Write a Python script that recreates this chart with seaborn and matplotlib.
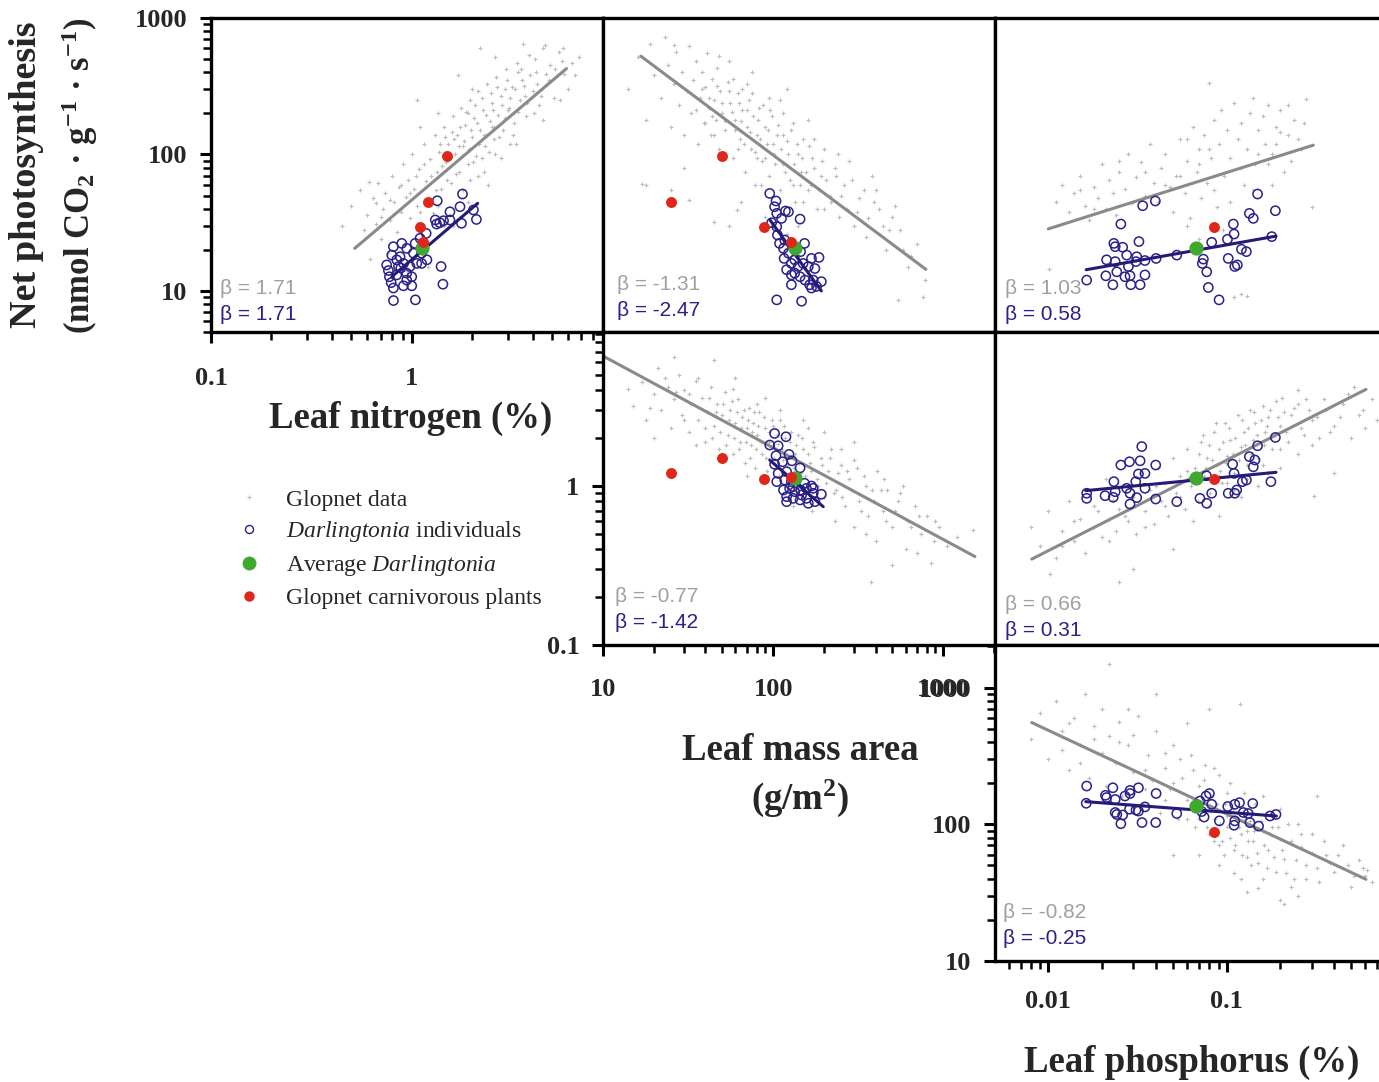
import numpy as np
import matplotlib
matplotlib.use("Agg")
import matplotlib.pyplot as plt
import seaborn as sns
from matplotlib.ticker import FixedLocator, FuncFormatter, NullFormatter, LogLocator
from matplotlib.lines import Line2D

# ---------------------------------------------------------------- data
# Glopnet global data (grey clouds), one list of (x, y) per panel
glop_N_A = [(0.45,30),(0.50,42),(0.52,21),(0.55,55),(0.58,28),(0.60,36),(0.61,63),(0.62,17),(0.64,48),(0.66,31),
            (0.68,62),(0.70,24),(0.72,40),(0.74,52),(0.76,19),(0.78,33),(0.80,70),(0.82,45),(0.84,27),(0.86,58),
            (0.88,38),(0.90,85),(0.92,22),(0.94,49),(0.96,65),(0.98,34),(1.00,100),(1.03,56),(1.06,42),(1.06,250),
            (1.09,78),(1.12,30),(1.15,120),(1.18,64),(1.21,48),(1.24,92),(1.27,37),(1.30,140),(1.33,75),(1.36,105),
            (1.40,56),(1.44,160),(1.48,88),(1.52,120),(1.56,62),(1.60,190),(1.64,100),(1.68,140),(1.72,75),(1.76,220),
            (1.80,115),(1.85,165),(1.90,85),(1.95,250),(2.00,135),(2.05,185),(2.10,98),(2.15,290),(2.20,150),(2.26,210),
            (2.32,115),(2.38,330),(2.44,175),(2.50,240),(2.56,130),(2.62,370),(2.70,195),(2.78,270),(2.86,150),(2.95,420),
            (3.05,220),(3.15,310),(3.25,170),(3.35,470),(3.45,250),(3.55,350),(3.60,650),(3.70,190),(3.85,540),(4.00,290),
            (4.15,400),(4.30,230),(4.50,600),(4.60,630),(4.70,330),(4.90,450),(5.10,260),(5.40,560),(5.70,600),(5.75,390),
            (6.00,300),(6.30,470),(2.40,60),(1.90,45),(3.10,120),(4.50,180),(5.50,250),(1.60,30),(2.80,95),(1.20,15),
            (0.95,14),(2.20,600),(1.70,380),(1.35,200),(2.60,520),(1.10,160),(3.00,210),(1.80,55),(2.30,75),(1.45,30),
            (1.55,95),(1.62,130),(1.66,72),(1.74,160),(1.78,98),(1.83,125),(1.87,205),(1.92,110),(1.97,150),(2.02,88),
            (2.07,230),(2.12,170),(2.17,120),(2.23,260),(2.28,140),(2.34,195),(2.42,105),(2.47,280),(2.53,210),
            (2.58,160),(2.66,310),(2.73,135),(2.82,230),(2.91,185),(2.98,350),(3.08,260),(3.18,140),(3.28,300),
            (3.38,205),(3.50,420),(3.62,320),(3.75,240),(3.90,380),(4.05,200),(4.20,330),(4.40,270),(4.65,390),
            (4.85,350),(5.20,420),(5.60,480),(6.50,380),(6.80,520),(1.25,70),(1.32,55),(1.38,120),(1.42,82),(1.50,65),
            (1.46,135),(1.15,85),(1.05,70),(0.98,52),(0.88,60),(0.78,46),(0.70,35),(0.66,44),(2.15,70),(2.60,100),
            (3.30,120),(1.35,42),(1.10,38),(2.90,300),(3.40,400),(2.00,300),(1.90,200),(2.50,160),(2.25,95),(3.65,270),
            (4.10,500),(1.72,115),(2.35,140),(1.58,145),(1.95,65)]
glop_LMA_A = [(14,300),(16,520),(17,61),(18,180),(19,650),(20,380),(22,260),(23,720),(24,450),(25,160),(26,330),
              (26,630),(27,560),(28,230),(29,400),(30,140),(31,290),(32,620),(32,46),(33,200),(34,350),(35,480),(36,120),
              (37,260),(38,400),(39,170),(40,310),(41,550),(42,220),(43,140),(44,360),(45,250),(45,32),(46,180),(47,430),
              (48,110),(49,290),(50,200),(52,150),(54,340),(56,240),(58,95),(60,180),(61,39),(62,280),(64,130),(66,210),
              (68,75),(70,160),(72,250),(74,110),(76,190),(78,60),(80,140),(83,220),(86,90),(89,160),(92,120),(95,70),
              (98,190),(101,100),(105,140),(110,55),(115,85),(120,125),(125,65),(130,170),(135,45),(140,100),(145,75),
              (150,130),(160,55),(170,95),(180,40),(190,70),(200,110),(215,50),(230,80),(245,35),(260,60),(280,90),
              (300,30),(320,48),(350,25),(380,70),(420,40),(460,20),(500,35),(545,8.6),(560,28),(620,15),(700,22),
              (760,9),(780,12),(650,18),(30,80),(25,55),(18,60),(55,30),(90,35),(400,55),(160,180),(110,250),(120,26),
              (70,330),(85,60),(65,45),(140,30),
              (42,260),(44,190),(47,320),(50,240),(52,175),(55,290),(57,205),(60,150),(63,240),(65,175),(67,120),
              (70,210),(73,145),(75,280),(78,105),(81,180),(84,130),(87,230),(90,95),(93,150),(96,210),(100,120),
              (103,85),(107,165),(111,110),(115,140),(118,75),(122,100),(127,150),(132,85),(138,120),(143,60),(148,95),
              (155,75),(162,115),(168,60),(175,80),(185,55),(195,90),(205,65),(220,45),(235,70),(250,50),(270,40),
              (290,65),(310,38),(340,55),(360,34),(390,45),(440,30),(480,28),(520,42),(580,20),(35,210),(38,300),
              (40,170),(45,140),(58,360),(62,110),(66,300),(75,400),(55,480),(48,530),(80,95),(95,260),(115,200),
              (130,60),(150,45),(175,130),(200,40),(240,100),(120,300)]
glop_P_A = [(0.0101,14.4),(0.011,45),(0.012,60),(0.013,38),(0.014,52),(0.015,70),(0.016,42),(0.017,33),(0.018,58),
            (0.019,48),(0.020,85),(0.021,40),(0.022,65),(0.023,52),(0.024,36),(0.025,75),(0.027,56),(0.028,100),
            (0.029,44),(0.031,68),(0.033,88),(0.035,50),(0.037,120),(0.039,62),(0.041,45),(0.043,80),(0.045,100),
            (0.048,58),(0.050,38),(0.052,70),(0.055,130),(0.058,52),(0.060,90),(0.062,34),(0.065,160),(0.068,75),
            (0.070,110),(0.072,48),(0.075,140),(0.078,62),(0.080,335),(0.082,95),(0.085,180),(0.088,41),(0.090,120),
            (0.093,210),(0.096,70),(0.100,150),(0.105,95),(0.110,240),(0.115,130),(0.120,170),(0.125,60),(0.130,110),
            (0.135,200),(0.140,260),(0.145,85),(0.150,150),(0.160,190),(0.165,120),(0.170,230),(0.180,100),(0.190,160),
            (0.200,210),(0.210,75),(0.220,140),(0.240,180),(0.260,110),(0.280,257),(0.300,41),(0.110,9.0),(0.120,9.5),
            (0.130,9.2),(0.095,28),(0.070,24),(0.060,30),
            (0.18,60),(0.23,90),(0.25,130),(0.19,120),(0.15,100),(0.12,80),(0.085,55),(0.105,45),(0.14,55),
            (0.17,85),(0.20,145),(0.22,230),(0.27,170),(0.08,110),(0.07,85),(0.055,70),(0.045,60),(0.035,75),
            (0.03,45),(0.025,90),(0.018,40),(0.015,55),(0.06,130)]
glop_LMA_N = [(14,4.1),(15,3.2),(17,4.5),(18,2.6),(20,3.8),(21,5.5),(22,3.0),(24,4.2),(25,2.3),(26,3.5),(26,6.5),
              (28,5.0),(29,2.8),(30,4.0),(32,2.2),(33,3.3),(35,4.6),(36,2.6),(38,3.6),(40,1.9),(41,2.9),(43,4.2),
              (45,2.4),(45,6.2),(47,3.3),(48,1.7),(50,2.8),(52,3.9),(54,2.1),(56,3.0),(58,1.6),(60,2.5),(60,4.8),
              (62,3.5),(64,1.9),(66,2.7),(68,1.4),(70,2.3),(70,1.15),(72,3.1),(74,1.8),(76,2.5),(78,1.3),(80,2.1),
              (83,2.9),(86,1.6),(89,2.3),(90,3.6),(92,1.25),(95,1.9),(98,2.6),(101,1.5),(105,2.1),(108,1.15),(112,1.7),
              (116,2.4),(120,1.35),(125,1.9),(130,1.05),(130,0.75),(135,1.6),(140,2.1),(145,1.2),(150,1.7),(150,2.6),
              (158,0.95),(165,1.4),(170,0.7),(172,1.9),(180,1.1),(190,1.5),(200,0.85),(200,2.2),(210,1.25),(220,1.7),
              (230,0.6),(235,0.95),(250,1.35),(265,0.75),(280,1.1),(300,1.45),(300,0.55),(300,1.9),(320,0.8),(340,1.15),
              (360,0.65),(378,0.25),(380,0.95),(400,0.45),(410,1.25),(440,0.7),(470,0.95),(500,0.55),(500,0.32),
              (540,0.8),(580,1.0),(600,0.4),(620,0.6),(680,0.75),(700,0.38),(740,0.5),(800,0.65),(850,0.33),(880,0.45),
              (950,0.55),(1050,0.42),(1500,0.53),(50,1.6),(35,1.8),(20,2.0),
              (40,2.3),(42,3.6),(44,2.0),(46,2.9),(49,2.2),(51,3.3),(53,1.8),(55,2.6),(57,3.4),(59,2.0),(61,2.9),
              (63,1.7),(65,2.3),(67,3.0),(69,1.9),(71,2.6),(73,1.5),(75,2.2),(77,2.9),(79,1.7),(82,2.4),(85,1.9),
              (88,2.7),(91,1.5),(94,2.2),(97,1.75),(100,2.4),(103,1.35),(107,1.85),(110,2.6),(114,1.45),(118,2.0),
              (122,1.55),(127,2.2),(132,1.3),(137,1.8),(142,1.4),(148,2.0),(154,1.15),(160,1.6),(168,1.25),(175,1.75),
              (184,1.0),(195,1.35),(205,1.05),(215,1.5),(228,0.9),(240,1.2),(255,0.85),(270,1.25),(290,0.95),
              (310,1.3),(330,0.7),(350,1.0),(390,0.8),(430,0.95),(460,0.6),(520,0.7),(560,0.9),(650,0.55),(720,0.65),
              (900,0.6),(1200,0.48),(32,3.8),(36,4.8),(30,2.6),(27,3.9),(23,4.8),(19,3.1),(58,4.1),(80,3.3),(110,3.0),
              (160,2.3),(250,1.7),(350,0.5),(450,1.1)]
glop_P_N = [(0.008,0.55),(0.009,0.42),(0.010,0.70),(0.0102,0.28),(0.011,0.35),(0.012,0.52),(0.013,0.80),(0.014,0.45),
            (0.015,0.62),(0.016,0.38),(0.017,0.95),(0.018,0.55),(0.019,0.70),(0.020,0.48),(0.021,1.10),(0.022,0.62),
            (0.023,0.82),(0.024,0.52),(0.025,0.25),(0.025,0.72),(0.026,1.00),(0.028,0.60),(0.030,0.85),(0.030,0.30),
            (0.031,0.50),(0.033,1.20),(0.035,0.70),(0.037,0.95),(0.039,0.58),(0.041,1.30),(0.043,0.80),(0.045,1.05),
            (0.047,0.65),(0.050,1.50),(0.050,0.40),(0.052,0.90),(0.055,1.15),(0.058,0.72),(0.060,1.70),(0.063,1.00),
            (0.066,1.30),(0.069,0.80),(0.072,1.90),(0.075,1.15),(0.078,1.50),(0.081,0.90),(0.085,2.20),(0.088,1.35),
            (0.090,0.65),(0.091,1.70),(0.094,1.05),(0.098,2.50),(0.100,1.55),(0.105,1.95),(0.110,1.20),(0.115,2.80),
            (0.120,1.75),(0.120,0.85),(0.125,2.20),(0.130,1.35),(0.135,3.00),(0.140,1.95),(0.145,2.50),(0.150,1.50),
            (0.150,1.00),(0.160,3.20),(0.165,2.20),(0.170,2.70),(0.180,1.70),(0.190,3.40),(0.200,2.40),(0.200,1.30),
            (0.210,2.90),(0.220,1.90),(0.240,3.10),(0.250,1.60),(0.260,2.30),(0.280,3.50),(0.300,2.60),(0.310,0.86),
            (0.330,2.00),(0.360,3.00),(0.400,2.40),(0.400,1.20),(0.450,3.30),(0.500,2.00),(0.520,4.20),(0.550,2.80),
            (0.600,2.30),(0.650,3.50),
            (0.070,1.6),(0.074,2.1),(0.077,1.3),(0.080,1.8),(0.083,1.45),(0.087,2.5),(0.092,1.25),(0.095,1.9),
            (0.099,1.4),(0.103,2.3),(0.108,1.6),(0.112,2.0),(0.117,1.45),(0.122,2.6),(0.127,1.8),(0.132,2.3),
            (0.137,1.6),(0.142,2.9),(0.148,2.1),(0.155,2.6),(0.162,1.8),(0.168,2.4),(0.175,3.0),(0.185,2.1),
            (0.195,2.7),(0.205,3.6),(0.215,2.2),(0.23,2.8),(0.25,3.3),(0.27,2.1),(0.29,3.0),(0.32,2.7),(0.35,3.5),
            (0.38,2.2),(0.43,2.7),(0.48,3.8),(0.58,3.0),(0.70,2.6),(0.16,1.35),(0.13,1.1),(0.11,0.95),(0.09,1.15),
            (0.06,1.25),(0.045,0.75),(0.035,0.55),(0.027,0.65),(0.022,0.45),(0.018,0.75),(0.014,0.6),(0.012,0.42),
            (0.04,1.0),(0.055,0.85),(0.065,0.6),(0.08,0.75),(0.10,1.05),(0.25,4.0),(0.30,1.8),(0.20,1.7),(0.17,1.2)]
glop_P_LMA = [(0.008,420),(0.009,650),(0.010,300),(0.011,800),(0.012,480),(0.013,250),(0.014,600),(0.015,380),
              (0.016,900),(0.017,220),(0.018,520),(0.019,330),(0.020,700),(0.021,190),(0.022,440),(0.022,1490),
              (0.024,280),(0.025,560),(0.026,160),(0.028,380),(0.030,240),(0.032,620),(0.034,140),(0.036,320),
              (0.038,210),(0.040,480),(0.040,900),(0.042,120),(0.045,260),(0.048,180),(0.050,380),(0.050,60),
              (0.053,110),(0.056,220),(0.060,150),(0.060,550),(0.063,320),(0.066,95),(0.070,190),(0.070,60),
              (0.073,130),(0.076,270),(0.080,85),(0.080,700),(0.083,160),(0.086,110),(0.090,230),(0.090,50),
              (0.094,75),(0.098,140),(0.100,95),(0.105,200),(0.110,65),(0.115,120),(0.119,755),(0.120,85),(0.120,40),
              (0.125,170),(0.130,58),(0.130,32),(0.135,105),(0.140,75),(0.145,140),(0.150,52),(0.150,34),(0.160,90),
              (0.170,65),(0.180,120),(0.190,45),(0.200,78),(0.200,28),(0.210,56),(0.210,26),(0.220,100),(0.240,40),
              (0.250,30),(0.260,68),(0.280,50),(0.300,85),(0.320,161),(0.330,38),(0.360,60),(0.400,45),(0.450,70),
              (0.500,35),(0.550,55),(0.600,42),(0.610,46),
              (0.070,110),(0.075,150),(0.078,95),(0.082,125),(0.085,75),(0.088,140),(0.092,100),(0.096,60),
              (0.100,115),(0.104,80),(0.108,130),(0.112,70),(0.117,95),(0.122,60),(0.127,110),(0.132,75),(0.137,50),
              (0.142,90),(0.147,62),(0.155,105),(0.162,70),(0.168,48),(0.175,85),(0.185,58),(0.195,95),(0.205,65),
              (0.215,44),(0.23,75),(0.245,55),(0.26,85),(0.28,40),(0.30,62),(0.32,48),(0.35,75),(0.38,52),(0.42,60),
              (0.48,50),(0.52,42),(0.58,48),(0.65,38),(0.14,120),(0.18,95),(0.25,100),(0.20,130),(0.16,160),(0.10,170),
              (0.11,44),(0.09,70),(0.13,90),(0.16,40),(0.23,35),(0.015,280),(0.018,420),(0.020,330),(0.025,400),
              (0.030,450),(0.035,250),(0.045,330),(0.055,300),(0.065,250),(0.013,550),(0.028,700),(0.050,200),
              (0.075,210),(0.085,260),(0.012,350),(0.045,150),(0.060,110),(0.035,180)]

# Darlingtonia individuals (open circles), per panel
dar_N_A = [(0.811,8.5),(1.043,8.6),(1.43,11.2),(1.40,15.1),(1.19,16.9),(1.12,15.9),(1.0,10.9),(0.909,10.9),(0.81,10.5),
           (0.774,12.7),(0.765,14.1),(0.842,13.1),(0.882,14.7),(0.944,13.5),(1.0,12.7),(0.98,15.1),(0.91,15.9),
           (0.842,16.9),(0.795,18.3),(0.875,17.8),(0.81,21.1),(0.892,22.3),(0.944,20.5),(1.02,18.9),(1.06,15.9),
           (1.04,22.3),(1.10,24.3),(1.18,26.4),(1.31,33.1),(1.33,30.9),(1.38,31.6),(1.44,32.7),(1.55,38.0),(1.74,41.4),
           (1.79,51.3),(2.03,39.2),(2.10,33.4),(1.77,31.3),(1.34,45.8),(0.859,15.1),(0.75,15.5),(0.79,11.5),
           (0.944,12.0),(1.55,33.1),(1.12,18.9)]
dar_LMA_A = [(95.5,51.8),(104,45.6),(102,41.4),(118,38.5),(123,38),(105,37),(112,34),(144,33.6),(98,31.6),(105,29.6),
             (106,25.7),(117,23.6),(115,20.5),(123,18.9),(134,16.9),(153,22.3),(145,19.4),(116,17.3),(128,15.9),
             (140,15.1),(150,15.9),(161,15.1),(168,17.3),(186,17.6),(176,14.6),(120,14.3),(128,13.1),(134,13.5),
             (144,12.7),(154,12.0),(172,12.0),(192,11.7),(164,11.1),(180,10.8),(128,11.1),(168,10.5),(105,8.6),
             (147,8.4),(109,22.3)]
dar_P_A = [(0.0164,12.0),(0.0210,12.9),(0.0230,11.1),(0.0242,13.8),(0.0269,12.7),(0.0287,12.9),(0.0290,11.1),
           (0.0327,11.1),(0.0348,13.1),(0.0212,16.9),(0.0237,16.4),(0.0237,21.1),(0.0233,22.3),(0.0261,20.9),
           (0.0275,18.3),(0.0281,15.1),(0.0313,17.8),(0.0310,16.4),(0.0348,16.7),(0.0402,17.3),(0.0322,23.0),
           (0.0255,30.9),(0.0338,42.1),(0.0398,45.6),(0.0525,18.3),(0.0740,17.1),(0.0730,15.9),(0.0773,13.8),
           (0.0789,10.6),(0.0906,8.6),(0.0824,22.7),(0.102,17.3),(0.101,23.9),(0.110,26.1),(0.109,30.9),(0.1148,15.5),
           (0.111,15.1),(0.121,20.2),(0.129,19.4),(0.134,37.0),(0.141,34.0),(0.149,51.3),(0.1875,38.7),(0.179,25.0)]
dar_LMA_N = [(102,2.14),(119,2.04),(95.5,1.81),(107,1.79),(104,1.55),(124,1.58),(113.5,1.42),(129,1.44),(144,1.30),
             (102,1.37),(107,1.20),(120,1.23),(105,1.065),(117,1.09),(128,1.065),(153,1.04),(168,1.0),(115,0.944),
             (125,0.967),(134,0.921),(145,0.944),(157,0.967),(172,0.967),(192,0.887),(120,0.857),(131,0.836),
             (144,0.817),(157,0.836),(161,0.778),(176,0.797),(120,0.797),(147,0.878),(131,0.99),(172,0.90)]
dar_P_N = [(0.0164,0.836),(0.0164,0.90),(0.0208,0.869),(0.0231,0.849),(0.0237,0.921),(0.0233,1.065),(0.0255,1.355),
           (0.0285,1.42),(0.0327,1.44),(0.0334,1.77),(0.040,1.355),(0.032,1.19),(0.0348,1.20),(0.0309,1.065),
           (0.0348,0.967),(0.0275,0.967),(0.0287,0.90),(0.0313,0.845),(0.0287,0.77),(0.040,0.828),(0.0525,0.797),
           (0.0708,0.836),(0.0773,0.778),(0.0824,0.90),(0.102,0.90),(0.111,0.90),(0.1138,0.944),(0.1225,1.065),
           (0.129,1.09),(0.110,1.20),(0.108,1.37),(0.141,1.32),(0.144,1.457),(0.134,1.53),(0.149,1.79),(0.1875,2.02),
           (0.177,1.065),(0.077,1.16)]
dar_P_LMA = [(0.0164,190.5),(0.0163,142.5),(0.0209,163),(0.0230,185),(0.0212,157),(0.0237,152),(0.0269,161),
             (0.0287,177),(0.0320,185),(0.0287,168),(0.0237,122),(0.0242,118),(0.0261,117),(0.0255,101),(0.0285,129),
             (0.0310,127),(0.0320,125),(0.0348,134),(0.0335,103),(0.0400,103),(0.0402,168),(0.0525,120),(0.0725,124),
             (0.0747,113),(0.0766,161),(0.0800,168),(0.0824,140),(0.0910,106),(0.1014,135),(0.111,140),(0.118,144),
             (0.110,98.4),(0.111,106),(0.124,122),(0.132,120),(0.135,103),(0.140,142),(0.151,97),(0.175,115),
             (0.189,118),(0.0708,148)]

# Average Darlingtonia
avg_N, avg_LMA, avg_A, avg_P = 1.12, 135, 20.7, 0.067
# Glopnet carnivorous plants (P known for one plant only)
carn_N = [1.49, 1.20, 1.10, 1.14]
carn_LMA = [50, 25, 88, 128]
carn_A = [97, 45, 29.6, 22.7]
carn_P = [np.nan, np.nan, 0.085, np.nan]

# regression lines: (x_start, x_end), (y_start, y_end)
fit_glop_N_A = ([0.52, 5.9], [20.5, 426])
fit_dar_N_A = ([0.795, 2.13], [12.7, 43.8])
fit_glop_LMA_A = ([16.7, 790], [525, 14.4])
fit_dar_LMA_A = ([96, 192], [33, 10])
fit_glop_P_A = ([0.010, 0.306], [28.5, 117])
fit_dar_P_A = ([0.0163, 0.189], [14.3, 25.2])
fit_glop_LMA_N = ([10, 1535], [6.57, 0.36])
fit_dar_LMA_N = ([95.5, 197], [1.457, 0.741])
fit_glop_P_N = ([0.00807, 0.604], [0.347, 4.05])
fit_dar_P_N = ([0.0162, 0.189], [0.935, 1.219])
fit_glop_P_LMA = ([0.00807, 0.604], [555, 39.6])
fit_dar_P_LMA = ([0.0162, 0.19], [146.5, 115])

beta_glop = ["1.71", "-1.31", "1.03", "-0.77", "0.66", "-0.82"]
beta_dar = ["1.71", "-2.47", "0.58", "-1.42", "0.31", "-0.25"]

# ---------------------------------------------------------------- style
sns.set_style("white")
plt.rcParams["font.family"] = ["Liberation Serif", "DejaVu Serif"]
plt.rcParams["font.weight"] = "bold"
plt.rcParams["mathtext.fontset"] = "custom"
plt.rcParams["mathtext.rm"] = "Liberation Serif:bold"
plt.rcParams["mathtext.bf"] = "Liberation Serif:bold"
plt.rcParams["mathtext.it"] = "Liberation Serif:italic:normal"

GREY_PT = "#bcbcbc"
GREY_LN = "#8a8a8a"
NAVY = "#2b2189"
NAVY_LN = "#241a78"
GREEN = "#3fa82e"
RED = "#e0261a"
BETA_GREY = "#a0a0a0"

W, H = 1379, 1082
fig = plt.figure(figsize=(W / 100, H / 100), dpi=100)


def px_axes(left, top, right, bottom):
    return fig.add_axes([left / W, 1 - bottom / H, (right - left) / W, (bottom - top) / H])


LIM_N_X = (0.1, 8.97)
LIM_N_Y = (0.1, 9.3)
LIM_A = (5.0, 1000)
LIM_LMA_X = (10, 2014)
LIM_LMA_Y = (10, 2050)
LIM_P = (0.00502, 1.0)

panels = [
    dict(rect=(211, 18, 603, 332), xlim=LIM_N_X, ylim=LIM_A, glop=glop_N_A, dar=dar_N_A,
         fg=fit_glop_N_A, fd=fit_dar_N_A, avg=(avg_N, avg_A), carn=(carn_N, carn_A),
         diag=True, xt=[0.1, 1], yt=[10, 100, 1000], xpad=17, boff=(9, 44, 18)),
    dict(rect=(603, 18, 995, 332), xlim=LIM_LMA_X, ylim=LIM_A, glop=glop_LMA_A, dar=dar_LMA_A,
         fg=fit_glop_LMA_A, fd=fit_dar_LMA_A, avg=(avg_LMA, avg_A), carn=(carn_LMA, carn_A),
         diag=False, boff=(14, 48, 22)),
    dict(rect=(995, 18, 1405, 332), xlim=LIM_P, ylim=LIM_A, glop=glop_P_A, dar=dar_P_A,
         fg=fit_glop_P_A, fd=fit_dar_P_A, avg=(avg_P, avg_A), carn=(carn_P, carn_A),
         diag=False, boff=(10, 43, 17)),
    dict(rect=(603, 332, 995, 645), xlim=LIM_LMA_X, ylim=LIM_N_Y, glop=glop_LMA_N, dar=dar_LMA_N,
         fg=fit_glop_LMA_N, fd=fit_dar_LMA_N, avg=(avg_LMA, avg_N), carn=(carn_LMA, carn_N),
         diag=True, xt=[10, 100, 1000], yt=[0.1, 1], xpad=16, boff=(12, 48, 22)),
    dict(rect=(995, 332, 1405, 645), xlim=LIM_P, ylim=LIM_N_Y, glop=glop_P_N, dar=dar_P_N,
         fg=fit_glop_P_N, fd=fit_dar_P_N, avg=(avg_P, avg_N), carn=(carn_P, carn_N),
         diag=False, boff=(10, 41, 15)),
    dict(rect=(995, 645, 1405, 961), xlim=LIM_P, ylim=LIM_LMA_Y, glop=glop_P_LMA, dar=dar_P_LMA,
         fg=fit_glop_P_LMA, fd=fit_dar_P_LMA, avg=(avg_P, avg_LMA), carn=(carn_P, carn_LMA),
         diag=True, xt=[0.01, 0.1], yt=[10, 100, 1000], xpad=13, boff=(8, 49, 23)),
]

fmt = FuncFormatter(lambda v, p: f"{v:g}")

for i, pnl in enumerate(panels):
    ax = px_axes(*pnl["rect"])
    ax.set_xscale("log")
    ax.set_yscale("log")
    gx, gy = zip(*pnl["glop"])
    sns.scatterplot(x=list(gx), y=list(gy), marker="+", s=12, color=GREY_PT, linewidth=0.8,
                    ax=ax, zorder=1, legend=False)
    sns.lineplot(x=pnl["fg"][0], y=pnl["fg"][1], color=GREY_LN, linewidth=2.2, ax=ax, zorder=2,
                 legend=False)
    dx, dy = zip(*pnl["dar"])
    sns.scatterplot(x=list(dx), y=list(dy), s=44, facecolor="none", edgecolor=NAVY, linewidth=1.1,
                    ax=ax, zorder=3, legend=False)
    sns.lineplot(x=pnl["fd"][0], y=pnl["fd"][1], color=NAVY_LN, linewidth=2.2, ax=ax, zorder=4,
                 legend=False)
    sns.scatterplot(x=[pnl["avg"][0]], y=[pnl["avg"][1]], s=105, color=GREEN, linewidth=0,
                    ax=ax, zorder=5, legend=False)
    cx, cy = pnl["carn"]
    keep = [k for k in range(len(cx)) if not np.isnan(cx[k])]
    sns.scatterplot(x=[cx[k] for k in keep], y=[cy[k] for k in keep], s=62, color=RED, linewidth=0,
                    ax=ax, zorder=6, legend=False)

    ax.set_xlim(*pnl["xlim"])
    ax.set_ylim(*pnl["ylim"])
    ax.set_xlabel("")
    ax.set_ylabel("")
    for sp in ax.spines.values():
        sp.set_visible(True)
        sp.set_linewidth(2.4)
        sp.set_color("black")

    if pnl["diag"]:
        ax.xaxis.set_major_locator(FixedLocator(pnl["xt"]))
        ax.yaxis.set_major_locator(FixedLocator(pnl["yt"]))
        ax.xaxis.set_minor_locator(LogLocator(base=10, subs=np.arange(2, 10), numticks=30))
        ax.yaxis.set_minor_locator(LogLocator(base=10, subs=np.arange(2, 10), numticks=30))
        ax.xaxis.set_major_formatter(fmt)
        ax.yaxis.set_major_formatter(fmt)
        ax.xaxis.set_minor_formatter(NullFormatter())
        ax.yaxis.set_minor_formatter(NullFormatter())
        ax.tick_params(which="both", direction="out", left=True, bottom=True, top=False, right=False,
                       color="black")
        ax.tick_params(which="major", length=8, width=2.2, labelsize=19)
        ax.tick_params(which="minor", length=5.5, width=1.8)
        ax.tick_params(axis="x", which="major", pad=pnl["xpad"])
        ax.tick_params(axis="y", which="major", pad=9)
    else:
        ax.tick_params(which="both", left=False, bottom=False, top=False, right=False,
                       labelleft=False, labelbottom=False)

    bx, bg, bn = pnl["boff"]
    h_px = pnl["rect"][3] - pnl["rect"][1]
    w_px = pnl["rect"][2] - pnl["rect"][0]
    ax.text(bx / w_px, bg / h_px, f"\u03b2 = {beta_glop[i]}", transform=ax.transAxes, ha="left",
            va="center", fontsize=15, color=BETA_GREY, family="Liberation Sans", fontweight="normal")
    ax.text(bx / w_px, bn / h_px, f"\u03b2 = {beta_dar[i]}", transform=ax.transAxes, ha="left",
            va="center", fontsize=15, color=NAVY, family="Liberation Sans", fontweight="normal")

# axis titles
lab_kw = dict(ha="center", va="center", fontsize=26.5, fontweight="bold")
fig.text(411 / W, 1 - 418 / H, "Leaf nitrogen (%)", **lab_kw)
fig.text(800 / W, 1 - 750 / H, "Leaf mass area", **lab_kw)
fig.text(800 / W, 1 - 798 / H, "(g/m$^\\mathbf{2}$)", **lab_kw)
fig.text(1192 / W, 1 - 1062 / H, "Leaf phosphorus (%)", **lab_kw)
fig.text(27 / W, 1 - 175 / H, "Net photosynthesis", rotation=90, ha="center", va="center",
         fontsize=27.5, fontweight="bold")
fig.text(80 / W, 1 - 176 / H,
         "(nmol CO$_\\mathbf{2}$ \u00b7 g$^{\\mathbf{-1}}$ \u00b7 s$^{\\mathbf{-1}}$)",
         rotation=90, ha="center", va="center", fontsize=25, fontweight="bold")

# legend
handles = [
    Line2D([], [], ls="", marker="+", ms=3, mew=0.8, color=GREY_PT),
    Line2D([], [], ls="", marker="o", ms=5.8, mfc="none", mec=NAVY, mew=1.0),
    Line2D([], [], ls="", marker="o", ms=10, mfc=GREEN, mec=GREEN, mew=0),
    Line2D([], [], ls="", marker="o", ms=7.5, mfc=RED, mec=RED, mew=0),
]
labels = ["Glopnet data", "$\\mathit{Darlingtonia}$ individuals", "Average $\\mathit{Darlingtonia}$",
          "Glopnet carnivorous plants"]
fig.legend(handles, labels, loc="upper left", bbox_to_anchor=(235 / W, 1 - 489 / H), frameon=False,
           prop=dict(family="Liberation Serif", weight="normal", size=17), handlelength=1.2,
           handletextpad=0.95, labelspacing=0.38, borderpad=0, borderaxespad=0)

fig.savefig("out.png", dpi=100)
